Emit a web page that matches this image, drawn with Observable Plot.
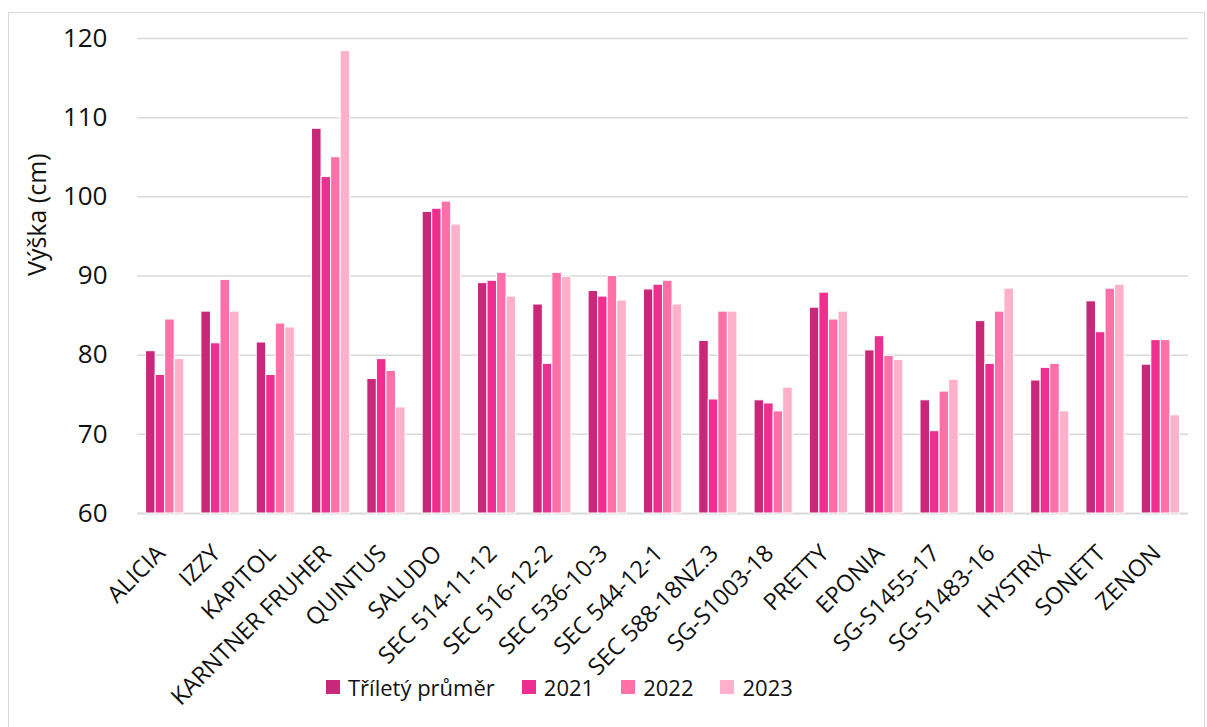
<!DOCTYPE html>
<html>
<head>
<meta charset="utf-8">
<script src="https://cdn.jsdelivr.net/npm/d3@7"></script>
<script src="https://cdn.jsdelivr.net/npm/@observablehq/plot@0.6"></script>
<style>
  html, body { margin: 0; padding: 0; background: #fff; }
  body { width: 1207px; height: 727px; position: relative; overflow: hidden; font-family: "Open Sans", sans-serif; }
  #frame { position: absolute; left: 8px; top: 12px; width: 1197px; height: 760px; border: 1.5px solid #d9d9d9; box-sizing: border-box; }
  #chart { position: absolute; left: 0; top: 0; }
  #legend { position: absolute; left: 326px; top: 672px; display: flex; align-items: center; font-size: 22px; color: #111; white-space: nowrap; }
  #legend .item { display: flex; align-items: center; margin-right: 27px; }
  #legend .sw { width: 14px; height: 14px; margin-right: 8px; }
</style>
</head>
<body>
<div id="frame"></div>
<div id="chart"></div>
<div id="legend"></div>
<script>
// ---- data ----
const categories = ["ALICIA", "IZZY", "KAPITOL", "KARNTNER FRUHER", "QUINTUS", "SALUDO",
  "SEC 514-11-12", "SEC 516-12-2", "SEC 536-10-3", "SEC 544-12-1", "SEC 588-18NZ.3",
  "SG-S1003-18", "PRETTY", "EPONIA", "SG-S1455-17", "SG-S1483-16", "HYSTRIX", "SONETT", "ZENON"];
const seriesNames = ["Tříletý průměr", "2021", "2022", "2023"];
const prumer = [80.5, 85.5, 81.6, 108.6, 77.0, 98.1, 89.1, 86.4, 88.1, 88.3, 81.8, 74.3, 86.0, 80.6, 74.3, 84.3, 76.8, 86.8, 78.8];
const y2021  = [77.5, 81.5, 77.5, 102.5, 79.5, 98.5, 89.4, 78.9, 87.4, 88.9, 74.4, 73.9, 87.9, 82.4, 70.4, 78.9, 78.4, 82.9, 81.9];
const y2022  = [84.5, 89.5, 84.0, 105.0, 78.0, 99.4, 90.4, 90.4, 90.0, 89.4, 85.5, 72.9, 84.5, 79.9, 75.4, 85.5, 78.9, 88.4, 81.9];
const y2023  = [79.5, 85.5, 83.5, 118.4, 73.4, 96.5, 87.4, 89.9, 86.9, 86.4, 85.5, 75.9, 85.5, 79.4, 76.9, 88.4, 72.9, 88.9, 72.4];
const yTicks = [60, 70, 80, 90, 100, 110, 120];
const yLabel = "Výška (cm)";
const colors = ["#c9287a", "#ee2f8f", "#ff70a9", "#ffb0cb"];

const seriesValues = [prumer, y2021, y2022, y2023];

// ---- layout ----
const W = 1207, H = 727;
const mL = 137, mR = 19, mT = 38, mB = 214;
const padInner = 0.31;
const step = (W - mL - mR) / categories.length;
const band = step * (1 - padInner);
const slot = band / 4;
const yMin = yTicks[0];

const marks = [
  Plot.ruleY(yTicks.slice(1), {stroke: "#d9d9d9", strokeWidth: 1.5}),
  Plot.ruleY([yMin], {stroke: "#d9d9d9", strokeWidth: 2}),
];
seriesValues.forEach((vals, i) => {
  const rows = categories.map((c, j) => ({name: c, value: vals[j]}));
  marks.push(Plot.barY(rows, {
    x: "name", y1: () => yMin, y2: "value",
    fill: colors[i], stroke: "white", strokeWidth: 1,
    insetLeft: i * slot, insetRight: (3 - i) * slot
  }));
});
marks.push(Plot.axisY({ticks: yTicks, tickSize: 0, tickPadding: 30, fontSize: 26, label: null}));
marks.push(Plot.axisX({tickSize: 0, tickRotate: -45, tickPadding: 20, dx: -4, dy: 16, fontSize: 23.5, label: null}));
marks.push(Plot.text([yLabel], {text: d => d, frameAnchor: "left", dx: -100, rotate: -90, fontSize: 25, fill: "#111"}));

const chart = Plot.plot({
  width: W, height: H,
  marginLeft: mL, marginRight: mR, marginTop: mT, marginBottom: mB,
  style: {fontFamily: "Open Sans", background: "transparent", color: "#111", overflow: "visible"},
  x: {domain: categories, paddingInner: padInner, paddingOuter: padInner / 2, round: false, axis: null},
  y: {domain: [yMin, yTicks[yTicks.length - 1]], axis: null},
  marks
});
document.getElementById("chart").appendChild(chart);

const legend = document.getElementById("legend");
seriesNames.forEach((n, i) => {
  const item = document.createElement("div");
  item.className = "item";
  const sw = document.createElement("span");
  sw.className = "sw";
  sw.style.background = colors[i];
  const t = document.createElement("span");
  t.textContent = n;
  item.appendChild(sw); item.appendChild(t);
  legend.appendChild(item);
});
</script>
</body>
</html>
